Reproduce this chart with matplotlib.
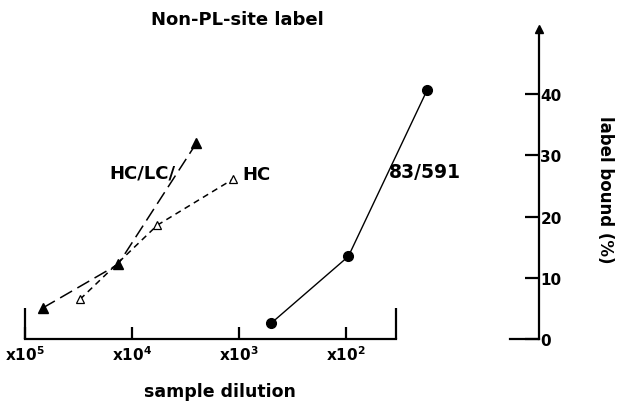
import matplotlib
matplotlib.use("Agg")
import matplotlib.pyplot as plt
from matplotlib.ticker import FixedLocator, NullFormatter

# sample dilution (fold) and label bound (%)
hclc_dil = [6.8e4, 1.35e4, 2.5e3]
hclc_val = [5.1, 12.2, 32.0]
hc_dil = [3.06e4, 5.8e3, 1.14e3]
hc_val = [6.5, 18.6, 26.1]
mab_dil = [500, 95, 17.5]
mab_val = [2.6, 13.5, 40.6]

xticks = [1e5, 1e4, 1e3, 1e2]
xlabels = [r'x10$^{\mathbf{5}}$', r'x10$^{\mathbf{4}}$', r'x10$^{\mathbf{3}}$', r'x10$^{\mathbf{2}}$']
yticks = [0, 10, 20, 30, 40]

FONT = ['DejaVu Sans']
plt.rcParams['font.family'] = FONT
plt.rcParams['font.weight'] = 'bold'
plt.rcParams['mathtext.fontset'] = 'dejavusans'

W, H = 626, 402


def fx(px):
    return px / W


def fy(py):
    return 1 - py / H


fig = plt.figure(figsize=(6.26, 4.02), dpi=100)
ax = fig.add_axes([0.040, 0.154, 0.821, 0.771])

ax.set_xscale('log')
ax.set_xlim(1e5, 10 ** 0.196)
ax.set_ylim(0, 50.6)

ax.plot(hclc_dil, hclc_val, color='black', lw=1.1, dashes=(9, 4),
        marker='^', ms=7, mfc='black', mec='black')
ax.plot(hc_dil, hc_val, color='black', lw=1.1, dashes=(4, 3),
        marker='^', ms=6, mfc='white', mec='black', mew=0.9)
ax.plot(mab_dil, mab_val, color='black', lw=1.0, marker='o', ms=7,
        mfc='black', mec='black')

fig.text(fx(142), fy(174), 'HC/LC/', fontsize=13, fontweight='bold',
         ha='center', va='center')
fig.text(fx(242), fy(175), 'HC', fontsize=13, fontweight='bold',
         ha='left', va='center')
fig.text(fx(389), fy(173), '83/591', fontsize=13.5, fontweight='bold',
         ha='left', va='center')

# spines
for s in ['left', 'top']:
    ax.spines[s].set_visible(False)
ax.spines['bottom'].set_bounds(1e5, 10 ** 1.53)
ax.spines['bottom'].set_linewidth(1.6)
ax.spines['right'].set_linewidth(1.6)

ax.xaxis.remove_overlapping_locs = False
ax.xaxis.set_major_locator(FixedLocator(xticks))
ax.set_xticklabels(xlabels)
ax.xaxis.set_minor_locator(FixedLocator([1e5, 10 ** 1.53]))
ax.xaxis.set_minor_formatter(NullFormatter())
ax.tick_params(axis='x', which='major', direction='in', length=9, width=1.6,
               labelsize=11, pad=4)
ax.tick_params(axis='x', which='minor', direction='in', length=22, width=1.6)

ax.yaxis.tick_right()
ax.set_yticks(yticks)
ax.tick_params(axis='y', which='major', direction='in', length=10, width=1.6,
               labelsize=11, pad=1)

# stub at zero and arrow head on the y axis
ax.plot([0.944, 1.0], [0, 0], color='black', lw=1.6, clip_on=False,
        transform=ax.get_yaxis_transform())
ax.plot([1.0], [1.0], marker='^', ms=6, color='black', clip_on=False,
        transform=ax.transAxes)

for lab in ax.get_xticklabels() + ax.get_yticklabels():
    lab.set_fontweight('bold')

fig.text(fx(237), fy(20), 'Non-PL-site label', fontsize=13,
         fontweight='bold', ha='center', va='center')
fig.text(fx(220), fy(392), 'sample dilution', fontsize=12.5,
         fontweight='bold', ha='center', va='center')
fig.text(fx(605), fy(190), 'label bound (%)', fontsize=12,
         fontweight='bold', ha='center', va='center', rotation=-90)

fig.savefig('out.png', dpi=100)
